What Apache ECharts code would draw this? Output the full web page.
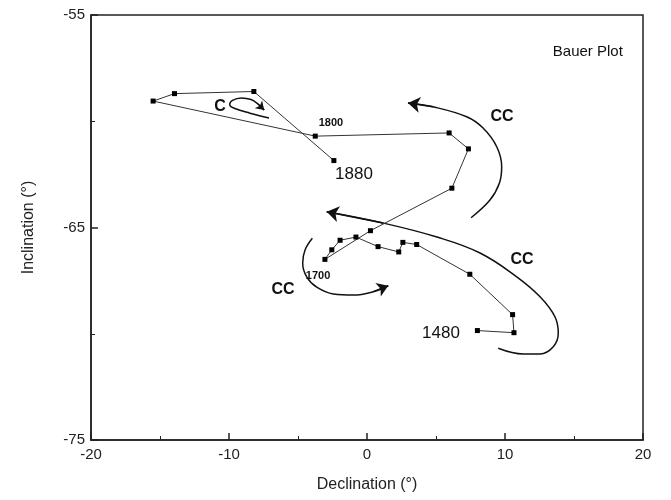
<!DOCTYPE html>
<html>
<head>
<meta charset="utf-8">
<script src="https://cdn.jsdelivr.net/npm/echarts@6/dist/echarts.min.js"></script>
<style>
  html, body { margin: 0; padding: 0; background: #fff; }
  #chart { width: 671px; height: 500px; }
</style>
</head>
<body>
<div id="chart"></div>
<script>
// path of the field, 1480 -> 1880
const declination = [8.0, 10.65, 10.55, 7.45, 3.6, 2.6, 2.3, 0.8, -0.8, -1.95, -2.55, -3.05, 0.25, 6.15, 7.35, 5.95, -3.75, -15.5, -13.95, -8.2, -2.4];
const inclination = [-69.85, -69.95, -69.1, -67.2, -65.8, -65.7, -66.15, -65.9, -65.45, -65.6, -66.05, -66.5, -65.15, -63.15, -61.3, -60.55, -60.7, -59.05, -58.7, -58.6, -61.85];

// hand drawn arrows (tail first, head last)
const arcTop = [[7.54, -64.54], [8.91, -63.71], [9.59, -62.92], [9.76, -62.14], [9.40, -61.20], [8.41, -60.32], [7.22, -59.79], [4.78, -59.32], [2.97, -59.14]];
const arcMid = [[9.51, -70.68], [11.33, -70.95], [12.54, -70.95], [13.50, -70.61], [13.86, -69.98], [13.62, -69.20], [12.54, -68.26], [10.85, -67.32], [8.19, -66.20], [5.07, -65.45], [1.16, -64.79], [-2.92, -64.26]];
const arcLow = [[-3.96, -65.51], [-4.49, -66.06], [-4.66, -66.68], [-4.37, -67.32], [-3.64, -67.81], [-2.44, -68.13], [-0.99, -68.18], [0.46, -68.02], [1.54, -67.74]];
const arcLoop = [[-7.10, -59.85], [-8.48, -59.62], [-9.57, -59.40], [-9.95, -59.22], [-9.75, -59.02], [-9.10, -58.90], [-8.40, -58.98], [-7.90, -59.19], [-7.45, -59.47]];

// text notes
const noteText = ['Bauer Plot', 'CC', 'CC', 'CC', 'C', '1480', '1700', '1800', '1880'];
const noteDec = [16.0, 9.78, 11.23, -6.09, -10.65, 5.36, -3.55, -2.61, -0.94];
const noteInc = [-56.74, -59.8, -66.53, -67.94, -59.3, -69.96, -67.28, -60.08, -62.48];

const noteStyle = {
  'Bauer Plot': { fontSize: 15, fontWeight: 'normal' },
  'CC': { fontSize: 16, fontWeight: 'bold' },
  'C': { fontSize: 16, fontWeight: 'bold' },
  '1480': { fontSize: 17, fontWeight: 'normal' },
  '1880': { fontSize: 17, fontWeight: 'normal' },
  '1700': { fontSize: 11, fontWeight: 'bold' },
  '1800': { fontSize: 11, fontWeight: 'bold' }
};

const FONT = '"Liberation Sans", Arial, sans-serif';
const chart = echarts.init(document.getElementById('chart'));

const arcSeries = [];
[[arcTop, 12], [arcMid, 12], [arcLow, 11], [arcLoop, 8]].forEach(([arc, head]) => {
  arcSeries.push({
    type: 'line',
    data: arc,
    smooth: 0.4,
    showSymbol: false,
    silent: true,
    lineStyle: { color: '#111', width: 1.5 },
    z: 3
  });
  // arrow head on the last short segment
  arcSeries.push({
    type: 'lines',
    coordinateSystem: 'cartesian2d',
    symbol: ['none', 'arrow'],
    symbolSize: head,
    silent: true,
    lineStyle: { color: '#111', width: 1.5, opacity: 1, curveness: 0 },
    data: [{ coords: arc.slice(-2) }],
    z: 3
  });
});

const axisCommon = {
  type: 'value',
  interval: 10,
  splitLine: { show: false },
  axisLine: { show: true, onZero: false, lineStyle: { color: '#222', width: 1.5 } },
  axisTick: { show: true, inside: true, length: 7, lineStyle: { color: '#222', width: 1.5 } },
  minorTick: { show: true, splitNumber: 2, length: 4, lineStyle: { color: '#222', width: 1 } },
  axisLabel: { color: '#222', fontSize: 15, fontFamily: FONT },
  nameLocation: 'middle',
  nameTextStyle: { color: '#222', fontSize: 16, fontFamily: FONT }
};

chart.setOption({
  animation: false,
  grid: { left: 91, right: 28, top: 15, bottom: 60, show: true, borderColor: '#222', borderWidth: 1.5 },
  xAxis: Object.assign({}, axisCommon, {
    min: -20, max: 20,
    name: 'Declination (°)', nameGap: 37,
    axisLabel: Object.assign({}, axisCommon.axisLabel, { margin: 7 })
  }),
  yAxis: Object.assign({}, axisCommon, {
    min: -75, max: -55,
    name: 'Inclination (°)', nameGap: 54,
    axisLabel: Object.assign({}, axisCommon.axisLabel, { margin: 6 })
  }),
  series: [
    {
      type: 'line',
      data: declination.map((d, i) => [d, inclination[i]]),
      symbol: 'rect',
      symbolSize: 5,
      showAllSymbol: true,
      itemStyle: { color: '#000' },
      lineStyle: { color: '#333', width: 1 },
      z: 4
    },
    ...arcSeries,
    {
      type: 'scatter',
      symbolSize: 0,
      silent: true,
      itemStyle: { opacity: 1 },
      data: noteText.map((t, i) => ({
        value: [noteDec[i], noteInc[i], t],
        label: Object.assign({ color: '#111' }, noteStyle[t])
      })),
      label: {
        show: true,
        position: 'inside',
        color: '#111',
        opacity: 1,
        fontFamily: FONT,
        formatter: p => p.value[2]
      },
      z: 5
    }
  ]
});
</script>
</body>
</html>
